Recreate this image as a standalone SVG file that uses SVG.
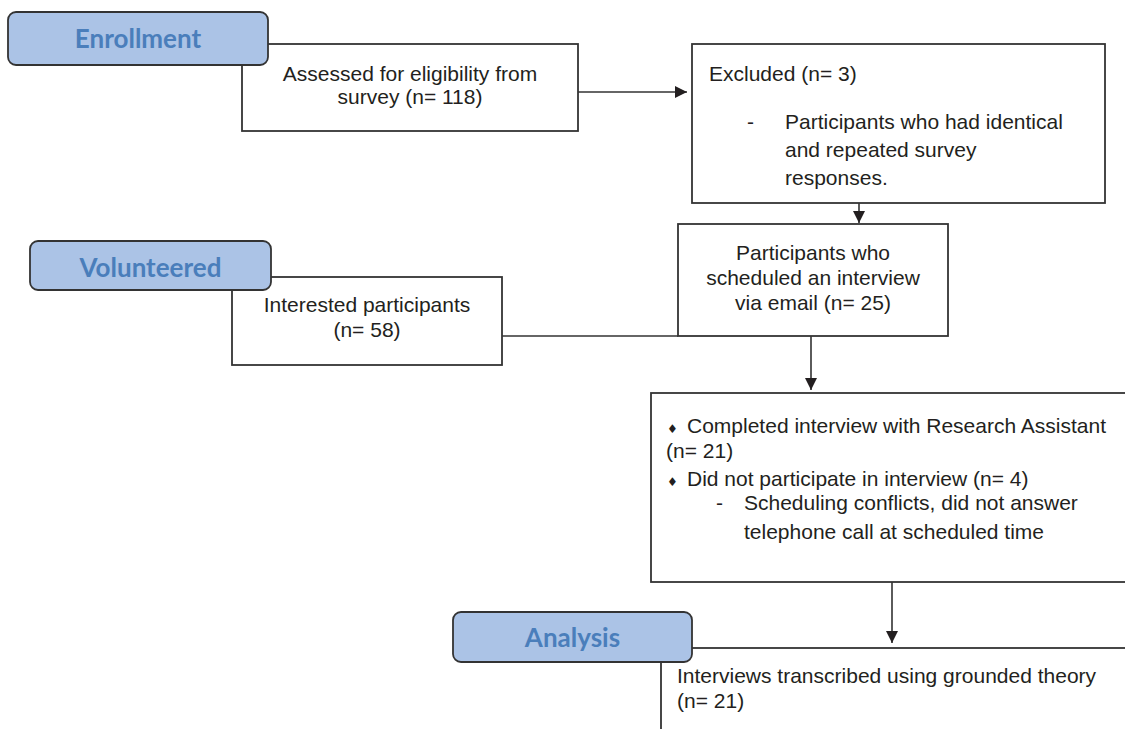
<svg xmlns="http://www.w3.org/2000/svg" width="1125" height="729" viewBox="0 0 1125 729">
  <style>
    .box { fill: #ffffff; stroke: #333333; stroke-width: 1.8; }
    .tab { fill: #abc3e6; stroke: #333333; stroke-width: 1.8; }
    .tabtxt { font-family: Lato, "Open Sans", sans-serif; font-weight: bold; font-size: 26px; fill: #4a7ebb; text-anchor: middle; }
    .txt { font-family: "Liberation Sans", Arial, sans-serif; font-size: 21px; fill: #231f20; }
    .mid { text-anchor: middle; }
    .bul { font-family: "DejaVu Sans", sans-serif; font-size: 12px; fill: #231f20; }
    .conn { fill: none; stroke: #333333; stroke-width: 1.6; }
  </style>
  <defs>
    <marker id="arr" markerUnits="userSpaceOnUse" markerWidth="13" markerHeight="13" refX="12" refY="6" orient="auto">
      <path d="M0,0 L12,6 L0,12 z" fill="#231f20"/>
    </marker>
  </defs>
  <rect width="1125" height="729" fill="#ffffff"/>

  <g id="connectors">
    <line class="conn" x1="578" y1="92" x2="687" y2="92" marker-end="url(#arr)"/>
    <line class="conn" x1="859" y1="199" x2="859" y2="223" marker-end="url(#arr)"/>
    <line class="conn" x1="502" y1="336" x2="678" y2="336"/>
    <line class="conn" x1="811" y1="336" x2="811" y2="390" marker-end="url(#arr)"/>
    <line class="conn" x1="892" y1="582" x2="892" y2="643" marker-end="url(#arr)"/>
  </g>

  <g id="assessed">
    <rect class="box" x="242" y="44" width="336" height="87"/>
    <text class="txt mid" x="410" y="81">Assessed for eligibility from</text>
    <text class="txt mid" x="410" y="104">survey (n= 118)</text>
  </g>

  <g id="excluded">
    <rect class="box" x="692" y="44" width="413" height="159"/>
    <text class="txt" x="709" y="81">Excluded (n= 3)</text>
    <text class="txt" x="747" y="129">-</text>
    <text class="txt" x="785" y="129">Participants who had identical</text>
    <text class="txt" x="785" y="157">and repeated survey</text>
    <text class="txt" x="785" y="185">responses.</text>
  </g>

  <g id="enrollment">
    <rect class="tab" x="8" y="12" width="260" height="53" rx="8" ry="8"/>
    <text class="tabtxt" x="138" y="48">Enrollment</text>
  </g>

  <g id="scheduled">
    <rect class="box" x="678" y="224" width="270" height="112"/>
    <text class="txt mid" x="813" y="260">Participants who</text>
    <text class="txt mid" x="813" y="285">scheduled an interview</text>
    <text class="txt mid" x="813" y="310">via email (n= 25)</text>
  </g>

  <g id="interested">
    <rect class="box" x="232" y="277" width="270" height="88"/>
    <text class="txt mid" x="367" y="312">Interested participants</text>
    <text class="txt mid" x="367" y="337">(n= 58)</text>
  </g>

  <g id="volunteered">
    <rect class="tab" x="30" y="241" width="241" height="49" rx="8" ry="8"/>
    <text class="tabtxt" x="150.5" y="277">Volunteered</text>
  </g>

  <g id="interviews">
    <rect class="box" x="651" y="393" width="500" height="189"/>
    <text class="bul" x="667" y="433">♦</text>
    <text class="txt" x="687" y="433">Completed interview with Research Assistant</text>
    <text class="txt" x="666" y="458">(n= 21)</text>
    <text class="bul" x="667" y="486">♦</text>
    <text class="txt" x="687" y="486">Did not participate in interview (n= 4)</text>
    <text class="txt" x="716" y="510">-</text>
    <text class="txt" x="744" y="510">Scheduling conflicts, did not answer</text>
    <text class="txt" x="744" y="539">telephone call at scheduled time</text>
  </g>

  <g id="transcribed">
    <rect class="box" x="661" y="648" width="500" height="120"/>
    <text class="txt" x="677" y="683">Interviews transcribed using grounded theory</text>
    <text class="txt" x="677" y="708">(n= 21)</text>
  </g>

  <g id="analysis">
    <rect class="tab" x="453" y="612" width="239" height="50" rx="8" ry="8"/>
    <text class="tabtxt" x="572.5" y="647">Analysis</text>
  </g>
</svg>
